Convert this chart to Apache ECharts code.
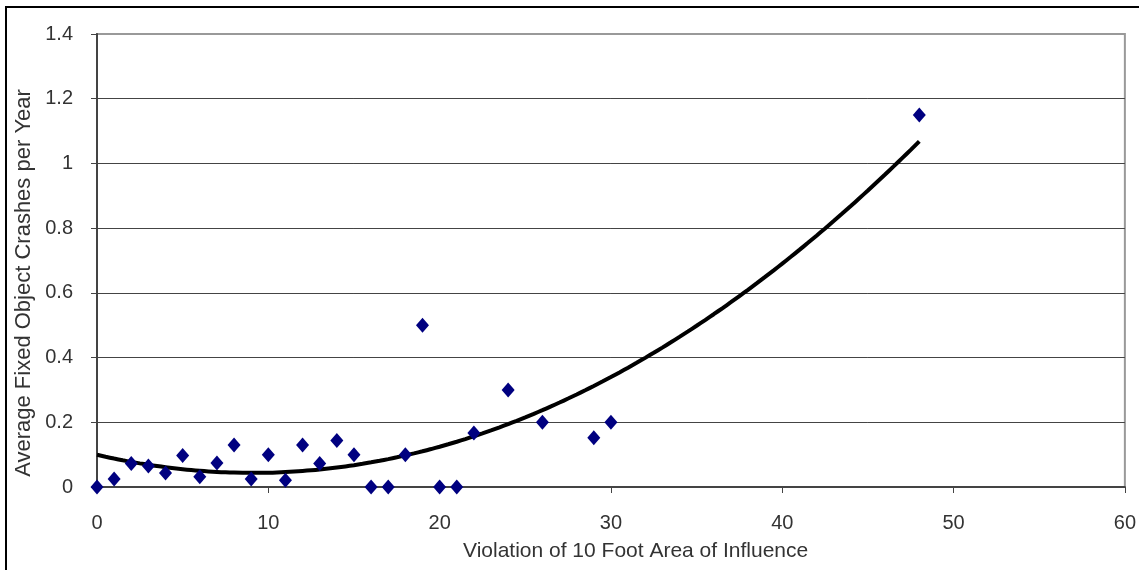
<!DOCTYPE html>
<html>
<head>
<meta charset="utf-8">
<script src="https://cdn.jsdelivr.net/npm/echarts@6/dist/echarts.min.js"></script>
<style>
html,body{margin:0;padding:0;background:#fff;}
#c{width:1139px;height:570px;}
</style>
</head>
<body>
<div id="c"></div>
<script>
// Data
const violations = [0,1,2,3,4,5,6,7,8,9,10,11,12,13,14,15,16,17,18,19,20,21,22,24,26,29,30,48];
const crashes = [0,0.025,0.073,0.065,0.043,0.097,0.032,0.074,0.13,0.025,0.1,0.021,0.13,0.073,0.144,0.1,0,0,0.1,0.5,0,0,0.167,0.3,0.2,0.152,0.2,1.15];
const xTicks = [0,10,20,30,40,50,60];
const yTicks = [0,0.2,0.4,0.6,0.8,1,1.2,1.4];
const xTitle = 'Violation of 10 Foot Area of Influence';
const yTitle = 'Average Fixed Object Crashes per Year';

// Polynomial (order 2) least-squares trendline from the data, as the spreadsheet computes it
function quadFit(xs, ys){
  let S=[0,0,0,0,0], T=[0,0,0];
  for(let i=0;i<xs.length;i++){
    let p=1;
    for(let k=0;k<5;k++){ S[k]+=p; if(k<3) T[k]+=p*ys[i]; p*=xs[i]; }
  }
  const A=[[S[0],S[1],S[2],T[0]],[S[1],S[2],S[3],T[1]],[S[2],S[3],S[4],T[2]]];
  for(let i=0;i<3;i++){
    for(let j=i+1;j<3;j++){
      const f=A[j][i]/A[i][i];
      for(let k=i;k<4;k++) A[j][k]-=f*A[i][k];
    }
  }
  const c=[0,0,0];
  for(let i=2;i>=0;i--){
    let s=A[i][3];
    for(let k=i+1;k<3;k++) s-=A[i][k]*c[k];
    c[i]=s/A[i][i];
  }
  return c;
}
const coef = quadFit(violations, crashes);
const xMinData = Math.min(...violations), xMaxData = Math.max(...violations);
const trend = [];
for(let i=0;i<=96;i++){
  const x = xMinData + (xMaxData-xMinData)*i/96;
  trend.push([x, coef[0]+coef[1]*x+coef[2]*x*x]);
}

const font = '"Liberation Sans", Arial, sans-serif';
const chart = echarts.init(document.getElementById('c'), null, {renderer:'canvas'});
chart.setOption({
  animation:false,
  backgroundColor:'#fff',
  grid:{left:97,right:14,top:34,bottom:83,show:true,borderColor:'#999',borderWidth:2,backgroundColor:'transparent'},
  title:{text:xTitle,left:458,top:536,textStyle:{fontFamily:font,fontSize:21,fontWeight:'normal',color:'#333'}},
  graphic:[
    {type:'rect',shape:{x:6,y:7,width:1200,height:620},style:{fill:'none',stroke:'#000',lineWidth:2},z:100},
    {type:'text',x:24,y:283,rotation:Math.PI/2,style:{text:yTitle,fontFamily:font,fontSize:22,fill:'#333',align:'center',verticalAlign:'middle'}}
  ],
  xAxis:{
    type:'value',min:xTicks[0],max:xTicks[xTicks.length-1],interval:10,
    axisLine:{show:true,onZero:false,lineStyle:{color:'#444',width:2}},
    axisTick:{show:true,inside:false,length:6,lineStyle:{color:'#444',width:1}},
    axisLabel:{margin:26,fontFamily:font,fontSize:20,color:'#333'},
    splitLine:{show:false}
  },
  yAxis:{
    type:'value',min:yTicks[0],max:yTicks[yTicks.length-1],interval:0.2,
    axisLine:{show:true,onZero:false,lineStyle:{color:'#444',width:2}},
    axisTick:{show:true,inside:false,length:6,lineStyle:{color:'#444',width:1}},
    axisLabel:{margin:24,fontFamily:font,fontSize:20,color:'#333'},
    splitLine:{show:true,lineStyle:{color:['#444','#444','#444','#444','#444','#444','#444','#999'],width:1}}
  },
  series:[
    {type:'line',data:trend,showSymbol:false,symbol:'none',smooth:true,lineStyle:{color:'#000',width:4},z:2,silent:true},
    {type:'scatter',data:violations.map((x,i)=>[x,crashes[i]]),symbol:'diamond',symbolSize:[13,15],itemStyle:{color:'#000080',opacity:1},z:3}
  ]
});
</script>
</body>
</html>
